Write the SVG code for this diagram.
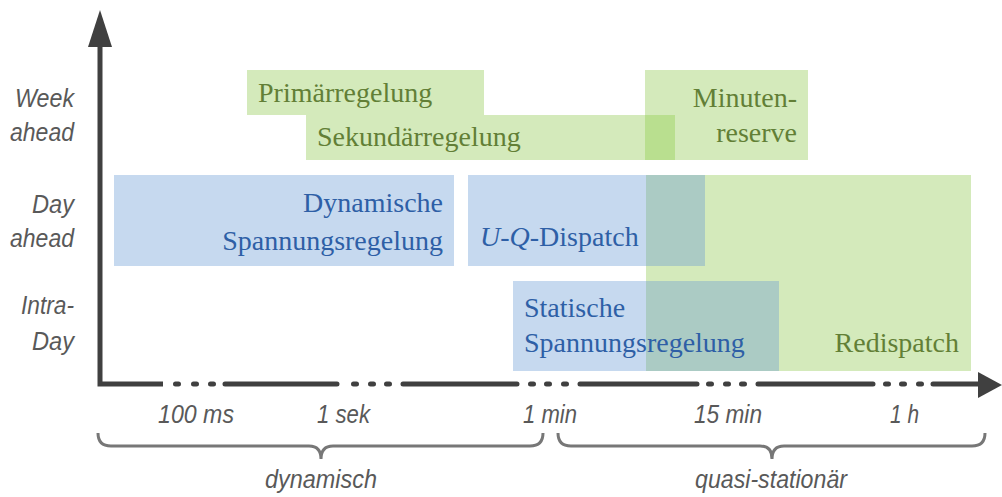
<svg xmlns="http://www.w3.org/2000/svg" width="1002" height="497" viewBox="0 0 1002 497">
<style>
.g{fill:#d4eabb}
.b{fill:#c6d9ef}
.gt{font-family:"Liberation Serif",serif;font-size:28px;fill:#627f36}
.bt{font-family:"Liberation Serif",serif;font-size:28px;fill:#2e5fa6}
.lab{font-family:"Liberation Sans",Arial,sans-serif;font-style:italic;font-size:25px;fill:#595959}
.ax{stroke:#404040;stroke-width:5;fill:none;stroke-linecap:round}
.br{stroke:#777;stroke-width:3;fill:none}
</style>
<rect width="1002" height="497" fill="#fff"/>
<g id="primaer">
<rect class="g" x="247" y="70" width="237" height="45"/>
<text class="gt" x="258" y="102">Primärregelung</text>
</g>
<g id="sekundaer">
<rect class="g" x="306" y="115" width="369" height="45"/>
<text class="gt" x="317" y="146">Sekundärregelung</text>
</g>
<g id="minutenreserve">
<rect class="g" x="645" y="70" width="163" height="90"/>
<rect x="645" y="115" width="30" height="45" fill="#b9df8f"/>
<text class="gt" text-anchor="end"><tspan x="797" y="107">Minuten-</tspan><tspan x="797" y="142">reserve</tspan></text>
</g>
<g id="dynamische">
<rect class="b" x="114" y="175" width="340" height="91"/>
<text class="bt" text-anchor="end"><tspan x="443" y="212">Dynamische</tspan><tspan x="443" y="250">Spannungsregelung</tspan></text>
</g>
<g id="uqdispatch">
<rect class="b" x="468" y="175" width="237" height="91"/>
</g>
<g id="statische">
<rect class="b" x="513" y="281" width="266" height="90"/>
</g>
<g id="redispatch">
<rect class="g" x="646" y="175" width="325" height="196"/>
<rect x="646" y="175" width="59" height="91" fill="#abcbc4"/>
<rect x="646" y="281" width="133" height="90" fill="#abcbc4"/>
<text class="gt" x="959" y="352" text-anchor="end">Redispatch</text>
</g>
<g id="labels-blue">
<text class="bt" x="480" y="246"><tspan font-style="italic">U</tspan>-<tspan font-style="italic">Q</tspan>-Dispatch</text>
<text class="bt"><tspan x="524" y="317">Statische</tspan><tspan x="524" y="352">Spannungsregelung</tspan></text>
</g>
<g id="axes">
<path d="M100,47 V384 H163" style="stroke:#404040;stroke-width:5;fill:none;stroke-linejoin:miter"/>
<polygon points="88,47 100,10 112,47" fill="#404040"/>
<path class="ax" d="M225,384 H337 M403,384 H517 M580,384 H697 M758,384 H873 M933,384 H980"/>
<path class="ax" d="M175.5,384 h3 M193.5,384 h3 M210.5,384 h3 M353.5,384 h3 M370.5,384 h3 M386.5,384 h3 M530.5,384 h3 M546.5,384 h3 M563.5,384 h3 M708.5,384 h3 M725.5,384 h3 M741.5,384 h3 M885.5,384 h3 M901.5,384 h3 M918.5,384 h3"/>
<polygon points="978,372 1002,385 978,398" fill="#404040"/>
</g>
<g id="y-labels">
<text class="lab" text-anchor="end"><tspan x="74" y="107" textLength="59" lengthAdjust="spacingAndGlyphs">Week</tspan><tspan x="74" y="141" textLength="64" lengthAdjust="spacingAndGlyphs">ahead</tspan></text>
<text class="lab" text-anchor="end"><tspan x="74" y="213" textLength="42" lengthAdjust="spacingAndGlyphs">Day</tspan><tspan x="74" y="247" textLength="64" lengthAdjust="spacingAndGlyphs">ahead</tspan></text>
<text class="lab" text-anchor="end"><tspan x="74" y="314" textLength="53" lengthAdjust="spacingAndGlyphs">Intra-</tspan><tspan x="74" y="350" textLength="42" lengthAdjust="spacingAndGlyphs">Day</tspan></text>
</g>
<g id="x-labels">
<text class="lab" x="158" y="423" textLength="76" lengthAdjust="spacingAndGlyphs">100 ms</text>
<text class="lab" x="317" y="423" textLength="53" lengthAdjust="spacingAndGlyphs">1 sek</text>
<text class="lab" x="523" y="423" textLength="54" lengthAdjust="spacingAndGlyphs">1 min</text>
<text class="lab" x="694" y="423" textLength="68" lengthAdjust="spacingAndGlyphs">15 min</text>
<text class="lab" x="890" y="423" textLength="29" lengthAdjust="spacingAndGlyphs">1 h</text>
</g>
<g id="braces">
<path class="br" d="M98,433 Q98,446 111,446 H309 Q321,446 321,459 Q321,446 333,446 H530 Q543,446 543,433"/>
<path class="br" d="M558,433 Q558,446 571,446 H760 Q772,446 772,459 Q772,446 784,446 H972 Q985,446 985,433"/>
<text class="lab" x="265" y="488" textLength="112" lengthAdjust="spacingAndGlyphs">dynamisch</text>
<text class="lab" x="695" y="488" textLength="152" lengthAdjust="spacingAndGlyphs">quasi-stationär</text>
</g>
</svg>
